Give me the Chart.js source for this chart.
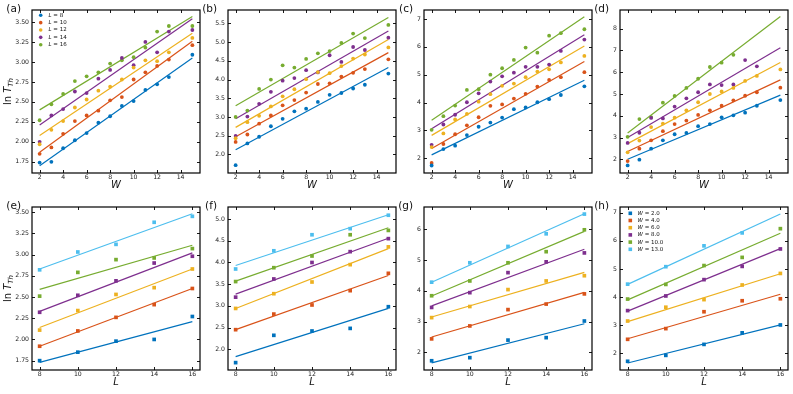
<!DOCTYPE html>
<html>
<head>
<meta charset="utf-8">
<script src="https://cdn.jsdelivr.net/npm/chart.js@4.4.1/dist/chart.umd.min.js"></script>
<style>
  body { margin: 0; background: #fff; }
  #wrap { position: relative; width: 793px; height: 394px; overflow: hidden; }
  #wrap canvas { position: absolute; }
</style>
</head>
<body>
<div id="wrap"></div>
<script>
// MATLAB style colours
const colors = ['#0072BD', '#D95319', '#EDB120', '#7E2F8E', '#77AC30', '#4DBEEE'];

// top row: x is W, one series per L
const wValues = [2, 3, 4, 5, 6, 7, 8, 9, 10, 11, 12, 13, 15];
const seriesL = [8, 10, 12, 14, 16];
const wTicks = [2, 4, 6, 8, 10, 12, 14];

// bottom row: x is L, one series per W
const lValues = [8, 10, 12, 14, 16];
const seriesW = ['2.0', '4.0', '6.0', '8.0', '10.0', '13.0'];
const lTicks = [8, 10, 12, 14, 16];

// (a)
const lnTa = [
  [1.74, 1.75, 1.92, 2.02, 2.11, 2.24, 2.32, 2.45, 2.51, 2.65, 2.72, 2.81, 3.09],
  [1.85, 1.93, 2.10, 2.26, 2.33, 2.39, 2.52, 2.56, 2.78, 2.87, 2.95, 3.03, 3.21],
  [1.97, 2.15, 2.26, 2.43, 2.53, 2.64, 2.69, 2.78, 2.93, 3.02, 3.01, 3.12, 3.30],
  [2.00, 2.33, 2.41, 2.63, 2.61, 2.79, 2.90, 3.05, 2.96, 3.25, 3.12, 3.38, 3.40],
  [2.27, 2.47, 2.60, 2.76, 2.82, 2.87, 2.98, 3.02, 3.06, 3.18, 3.38, 3.45, 3.45]
];
const fitA = [[1.70, 3.05], [1.87, 3.26], [2.08, 3.36], [2.21, 3.54], [2.40, 3.57]];
const yTicksA = [1.75, 2.00, 2.25, 2.50, 2.75, 3.00, 3.25, 3.50];

// (b)
const lnTb = [
  [1.71, 2.29, 2.47, 2.75, 2.95, 3.15, 3.22, 3.40, 3.59, 3.64, 3.76, 3.86, 4.16],
  [2.33, 2.53, 2.82, 3.04, 3.31, 3.45, 3.65, 3.88, 3.90, 4.08, 4.18, 4.28, 4.54],
  [2.43, 2.86, 3.03, 3.28, 3.55, 3.74, 4.01, 4.20, 4.17, 4.36, 4.56, 4.67, 4.86],
  [2.49, 3.01, 3.35, 3.67, 3.97, 4.04, 4.25, 4.19, 4.65, 4.47, 4.87, 4.79, 5.12],
  [3.00, 3.17, 3.75, 4.00, 4.38, 4.32, 4.55, 4.70, 4.76, 4.98, 5.23, 5.11, 5.46]
];
const fitB = [[2.12, 4.32], [2.47, 4.72], [2.72, 5.07], [2.95, 5.30], [3.30, 5.66]];
const yTicksB = [2.0, 2.5, 3.0, 3.5, 4.0, 4.5, 5.0, 5.5];

// (c)
const lnTc = [
  [1.74, 2.33, 2.45, 2.83, 3.13, 3.28, 3.46, 3.76, 3.82, 4.01, 4.12, 4.27, 4.58],
  [1.83, 2.51, 2.86, 3.18, 3.47, 3.88, 3.93, 4.14, 4.31, 4.57, 4.81, 4.91, 5.09],
  [2.40, 2.89, 3.39, 3.59, 4.03, 4.30, 4.60, 4.68, 4.91, 5.11, 5.19, 5.44, 5.67],
  [2.48, 3.21, 3.56, 4.01, 4.33, 4.75, 4.94, 5.07, 5.28, 5.28, 5.36, 5.85, 6.26],
  [3.02, 3.51, 3.89, 4.45, 4.48, 5.00, 5.23, 5.53, 5.97, 5.79, 6.40, 6.49, 6.63]
];
const fitC = [[2.12, 4.80], [2.35, 5.47], [2.82, 6.03], [3.06, 6.43], [3.36, 7.08]];
const yTicksC = [2, 3, 4, 5, 6, 7];

// (d)
const lnTd = [
  [1.72, 1.98, 2.49, 2.87, 3.15, 3.21, 3.52, 3.62, 3.93, 4.02, 4.14, 4.46, 4.72],
  [1.92, 2.49, 2.87, 3.29, 3.62, 3.78, 4.04, 4.25, 4.46, 4.71, 4.92, 5.08, 5.29],
  [2.32, 2.86, 3.48, 3.64, 3.91, 4.25, 4.62, 5.00, 5.12, 5.28, 5.60, 5.83, 6.13],
  [2.75, 3.22, 3.90, 3.88, 4.42, 4.80, 5.08, 5.44, 5.41, 5.44, 6.56, 6.27, null],
  [3.03, 3.85, 3.94, 4.60, 4.91, 5.28, 5.70, 6.24, 6.44, 6.80, null, null, null]
];
const fitD = [[2.00, 4.95], [2.36, 5.65], [2.72, 6.45], [3.00, 7.13], [3.21, 8.56]];
const yTicksD = [2, 3, 4, 5, 6, 7, 8];

// (e)
const lnTe = [
  [1.75, 1.85, 1.98, 2.00, 2.27],
  [1.92, 2.10, 2.26, 2.41, 2.60],
  [2.11, 2.34, 2.53, 2.61, 2.83],
  [2.32, 2.52, 2.69, 2.90, 2.98],
  [2.51, 2.79, 2.94, 2.96, 3.07],
  [2.82, 3.03, 3.12, 3.38, 3.45]
];
const fitE = [[1.73, 2.21], [1.92, 2.60], [2.14, 2.83], [2.33, 3.02], [2.59, 3.11], [2.83, 3.48]];
const yTicksE = [1.75, 2.00, 2.25, 2.50, 2.75, 3.00, 3.25, 3.50];

// (f)
const lnTf = [
  [1.69, 2.32, 2.42, 2.48, 2.98],
  [2.45, 2.81, 3.02, 3.35, 3.75],
  [2.94, 3.28, 3.55, 3.95, 4.36],
  [3.20, 3.62, 4.00, 4.25, 4.55],
  [3.56, 3.88, 4.15, 4.64, 4.74],
  [3.85, 4.27, 4.64, 4.78, 5.09]
];
const fitF = [[1.83, 2.94], [2.45, 3.70], [2.94, 4.32], [3.27, 4.56], [3.57, 4.80], [3.93, 5.10]];
const yTicksF = [2.0, 2.5, 3.0, 3.5, 4.0, 4.5, 5.0];

// (g)
const lnTg = [
  [1.73, 1.83, 2.40, 2.48, 3.02],
  [2.44, 2.86, 3.39, 3.57, 3.90],
  [3.13, 3.49, 4.04, 4.32, 4.49],
  [3.46, 3.94, 4.59, 4.94, 5.23],
  [3.84, 4.32, 4.91, 5.27, 5.98],
  [4.28, 4.91, 5.44, 5.85, 6.49]
];
const fitG = [[1.66, 2.93], [2.50, 3.95], [3.15, 4.60], [3.51, 5.35], [3.83, 5.93], [4.28, 6.50]];
const yTicksG = [2, 3, 4, 5, 6];

// (h)
const lnTh = [
  [1.72, 1.93, 2.32, 2.73, 3.01],
  [2.50, 2.88, 3.48, 3.87, 3.94],
  [3.15, 3.64, 3.91, 4.43, 4.84],
  [3.52, 4.04, 4.62, 5.09, 5.71],
  [3.93, 4.45, 5.12, 5.41, 6.43],
  [4.46, 5.08, 5.82, 6.28, null]
];
const fitH = [[1.66, 3.01], [2.52, 4.10], [3.13, 4.83], [3.50, 5.72], [3.90, 6.27], [4.45, 6.95]];
const yTicksH = [2, 3, 4, 5, 6, 7];

const FONT = "'DejaVu Sans', sans-serif";
const PLOT_W = 168, PLOT_H = 163;

// draws the boxed frame, inward ticks, titles, panel tag and legend
const framePlugin = {
  id: 'frame',
  afterDraw(chart, args, o) {
    const { ctx, chartArea: a, scales: { x, y } } = chart;
    ctx.save();
    ctx.strokeStyle = '#000';
    ctx.lineWidth = 0.9;
    ctx.beginPath();
    x.ticks.forEach(t => {
      const px = Math.round(x.getPixelForValue(t.value)) + 0.5;
      ctx.moveTo(px, a.bottom); ctx.lineTo(px, a.bottom - 3);
      ctx.moveTo(px, a.top); ctx.lineTo(px, a.top + 3);
    });
    y.ticks.forEach(t => {
      const py = Math.round(y.getPixelForValue(t.value)) + 0.5;
      ctx.moveTo(a.left, py); ctx.lineTo(a.left + 3, py);
      ctx.moveTo(a.right, py); ctx.lineTo(a.right - 3, py);
    });
    ctx.stroke();
    ctx.lineWidth = 1.2;
    ctx.strokeRect(a.left, a.top, a.right - a.left, a.bottom - a.top);

    ctx.fillStyle = '#111';
    // panel tag
    ctx.font = '10.5px ' + FONT;
    ctx.textAlign = 'right';
    ctx.textBaseline = 'middle';
    ctx.fillText(o.tag, a.left - 11, a.top - 1);

    // x title
    ctx.font = 'italic 10px ' + FONT;
    ctx.textAlign = 'center';
    ctx.fillText(o.xTitle, (a.left + a.right) / 2, a.bottom + 12.5);

    // y title: ln T_Th
    if (o.yTitle) {
      ctx.save();
      ctx.translate(a.left - 24, (a.top + a.bottom) / 2);
      ctx.rotate(-Math.PI / 2);
      ctx.textAlign = 'left';
      ctx.font = '10px ' + FONT;
      const w1 = ctx.measureText('ln ').width;
      ctx.font = 'italic 10px ' + FONT;
      const w2 = ctx.measureText('T').width;
      ctx.font = 'italic 7px ' + FONT;
      const w3 = ctx.measureText('Th').width;
      let sx = -(w1 + w2 + w3) / 2;
      ctx.font = '10px ' + FONT;
      ctx.fillText('ln ', sx, 0);
      ctx.font = 'italic 10px ' + FONT;
      ctx.fillText('T', sx + w1, 0);
      ctx.font = 'italic 7px ' + FONT;
      ctx.fillText('Th', sx + w1 + w2, 3);
      ctx.restore();
    }

    // legend
    if (o.legend) {
      const L = o.legend;
      ctx.textAlign = 'left';
      L.labels.forEach((lab, i) => {
        const cy = a.top + L.y0 + i * L.dy;
        const cx = a.left + L.mx;
        ctx.fillStyle = colors[i];
        ctx.beginPath();
        if (L.square) ctx.rect(cx - 1.8, cy - 1.8, 3.6, 3.6);
        else ctx.arc(cx, cy, 1.8, 0, Math.PI * 2);
        ctx.fill();
        ctx.fillStyle = '#111';
        ctx.font = 'italic 5.5px ' + FONT;
        const tx = a.left + L.tx;
        ctx.fillText(L.sym, tx, cy);
        const sw = ctx.measureText(L.sym).width;
        ctx.font = '5.5px ' + FONT;
        ctx.fillText(' = ' + lab, tx + sw, cy);
      });
    }
    ctx.restore();
  }
};

function makePanel(cfg) {
  const canvas = document.createElement('canvas');
  const cw = PLOT_W + 36, ch = PLOT_H + 34;
  canvas.width = cw; canvas.height = ch;
  canvas.style.left = (cfg.left - 32) + 'px';
  canvas.style.top = (cfg.top - 10) + 'px';
  canvas.style.width = cw + 'px';
  canvas.style.height = ch + 'px';
  document.getElementById('wrap').appendChild(canvas);

  const datasets = [];
  cfg.values.forEach((row, i) => {
    datasets.push({
      data: row.map((v, j) => ({ x: cfg.xs[j], y: v })).filter(p => p.y !== null),
      showLine: false,
      pointStyle: cfg.square ? 'rect' : 'circle',
      pointRadius: cfg.square ? 2.6 : 1.9,
      pointBorderWidth: 0,
      pointBackgroundColor: colors[i],
      backgroundColor: colors[i],
      order: 0
    });
  });
  cfg.fits.forEach((f, i) => {
    datasets.push({
      data: [{ x: cfg.xs[0], y: f[0] }, { x: cfg.xs[cfg.xs.length - 1], y: f[1] }],
      showLine: true,
      borderColor: colors[i],
      borderWidth: 1.2,
      pointRadius: 0,
      order: 1
    });
  });

  new Chart(canvas, {
    type: 'scatter',
    data: { datasets },
    options: {
      responsive: false,
      animation: false,
      devicePixelRatio: 1,
      layout: { padding: { left: 2, top: 10, right: 4, bottom: 2 } },
      plugins: {
        legend: { display: false },
        tooltip: { enabled: false },
        frame: { tag: cfg.tag, xTitle: cfg.xTitle, yTitle: cfg.yTitle, legend: cfg.legend }
      },
      scales: {
        x: {
          type: 'linear',
          min: cfg.xRange[0], max: cfg.xRange[1],
          afterBuildTicks: s => { s.ticks = cfg.xTicks.map(v => ({ value: v })); },
          afterFit: s => { s.height = 22; },
          grid: { display: false, drawTicks: false },
          border: { display: false },
          ticks: { padding: 1, color: '#222', font: { family: FONT, size: 6.2 }, maxRotation: 0,
                   callback: v => String(v) }
        },
        y: {
          type: 'linear',
          min: cfg.yRange[0], max: cfg.yRange[1],
          afterBuildTicks: s => { s.ticks = cfg.yTicks.map(v => ({ value: v })); },
          afterFit: s => { s.width = 30; },
          grid: { display: false, drawTicks: false },
          border: { display: false },
          ticks: { padding: 3, color: '#222', font: { family: FONT, size: 6.2 },
                   callback: v => v.toFixed(cfg.dec) }
        }
      }
    },
    plugins: [framePlugin]
  });
}

const cols = [32, 228, 424, 620];
const rows = [10, 207];
const topX = [1.35, 15.65];
const botX = [7.6, 16.4];

makePanel({ tag: '(a)', left: cols[0], top: rows[0], xs: wValues, values: lnTa, fits: fitA,
  xRange: topX, xTicks: wTicks, yRange: [1.61, 3.65], yTicks: yTicksA, dec: 2, xTitle: 'W', yTitle: true,
  legend: { labels: seriesL.map(String), sym: 'L', mx: 8.7, tx: 16.5, y0: 5.3, dy: 7.35 } });
makePanel({ tag: '(b)', left: cols[1], top: rows[0], xs: wValues, values: lnTb, fits: fitB,
  xRange: topX, xTicks: wTicks, yRange: [1.50, 5.86], yTicks: yTicksB, dec: 1, xTitle: 'W' });
makePanel({ tag: '(c)', left: cols[2], top: rows[0], xs: wValues, values: lnTc, fits: fitC,
  xRange: topX, xTicks: wTicks, yRange: [1.47, 7.32], yTicks: yTicksC, dec: 0, xTitle: 'W' });
makePanel({ tag: '(d)', left: cols[3], top: rows[0], xs: wValues, values: lnTd, fits: fitD,
  xRange: topX, xTicks: wTicks, yRange: [1.37, 8.86], yTicks: yTicksD, dec: 0, xTitle: 'W' });

makePanel({ tag: '(e)', left: cols[0], top: rows[1], xs: lValues, values: lnTe, fits: fitE, square: true,
  xRange: botX, xTicks: lTicks, yRange: [1.64, 3.56], yTicks: yTicksE, dec: 2, xTitle: 'L', yTitle: true });
makePanel({ tag: '(f)', left: cols[1], top: rows[1], xs: lValues, values: lnTf, fits: fitF, square: true,
  xRange: botX, xTicks: lTicks, yRange: [1.52, 5.28], yTicks: yTicksF, dec: 1, xTitle: 'L' });
makePanel({ tag: '(g)', left: cols[2], top: rows[1], xs: lValues, values: lnTg, fits: fitG, square: true,
  xRange: botX, xTicks: lTicks, yRange: [1.43, 6.72], yTicks: yTicksG, dec: 0, xTitle: 'L' });
makePanel({ tag: '(h)', left: cols[3], top: rows[1], xs: lValues, values: lnTh, fits: fitH, square: true,
  xRange: botX, xTicks: lTicks, yRange: [1.41, 7.20], yTicks: yTicksH, dec: 0, xTitle: 'L',
  legend: { labels: seriesW, sym: 'W', mx: 10.3, tx: 17.5, y0: 6.3, dy: 7.2, square: true } });
</script>
</body>
</html>
